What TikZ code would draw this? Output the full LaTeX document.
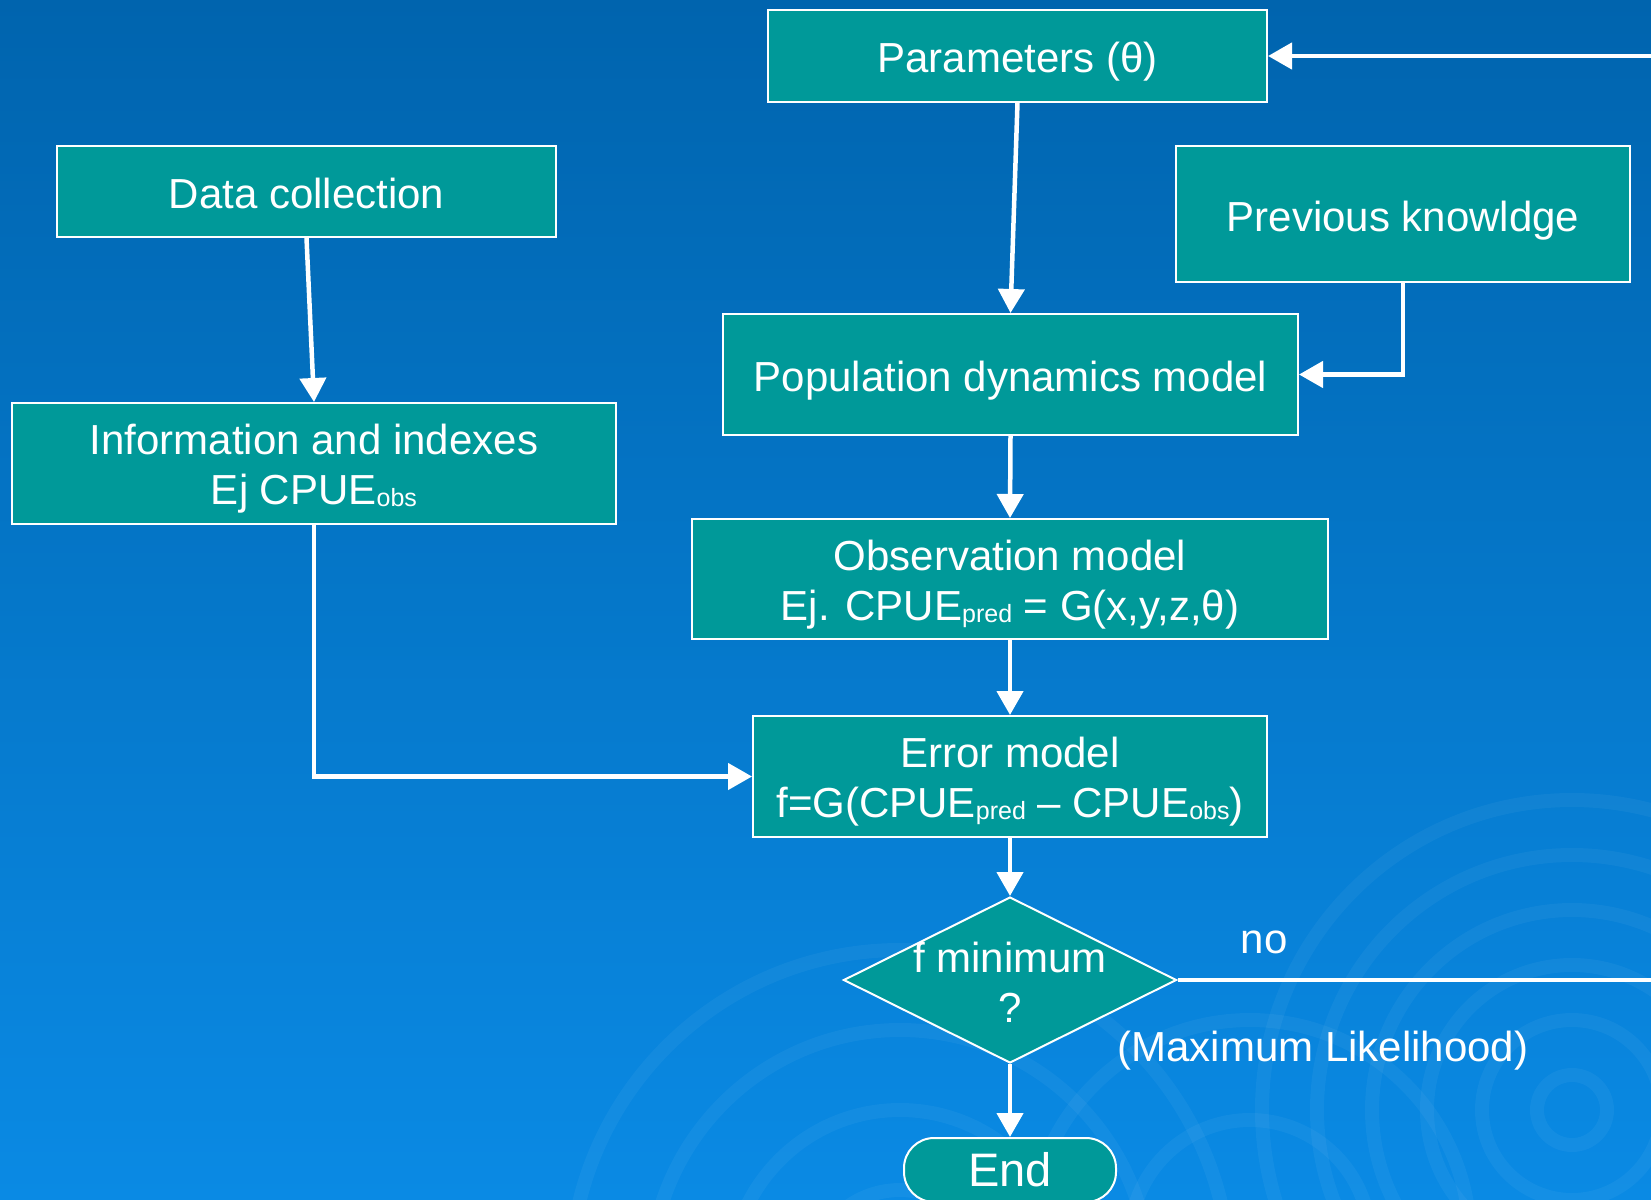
\documentclass[tikz,border=0pt]{standalone}
\usepackage{fontspec}
\setmainfont{Liberation Sans}
\usetikzlibrary{arrows.meta,shapes.geometric,positioning}
\definecolor{bgtop}{RGB}{0,100,174}
\definecolor{bgmid}{RGB}{0,110,190}
\definecolor{bgbot}{RGB}{10,138,228}
\definecolor{teal}{RGB}{0,153,153}
\newcommand{\sbs}[1]{\raisebox{-2pt}{\fontsize{25}{25}\selectfont #1}}
\newcommand{\twoline}[2]{\begin{tabular}{@{}c@{}}\rule{0pt}{47pt}#1\\#2\end{tabular}}
\tikzset{
  box/.style={draw=white, line width=2pt, fill=teal, text=white, align=center,
    inner sep=0pt, font=\fontsize{42}{50}\selectfont},
  one/.style={text height=38pt, text depth=4pt},
  conn/.style={draw=white, line width=4.5pt, -{Triangle[length=24pt,width=26pt]}},
  plain/.style={draw=white, line width=4.5pt},
  lbl/.style={text=white, inner sep=0pt, font=\fontsize{42}{50}\selectfont},
  ring/.style={draw=white, draw opacity=0.045, line width=14pt},
}
\begin{document}
\begin{tikzpicture}[x=1pt,y=-1pt]
\useasboundingbox (0,0) rectangle (1651,1199);
\begin{scope}
\clip (0,0) rectangle (1651,1199);
\shade[top color=bgtop, middle color=bgmid, bottom color=bgbot] (0,0) rectangle (1651,1199);
\foreach \r in {35,90,145,200,255,310} \draw[ring] (1572,1110) circle (\r);
\foreach \r in {90,170,250,330} \draw[ring] (900,1280) circle (\r);
\foreach \r in {120,220} \draw[ring] (1250,1240) circle (\r);
\end{scope}

\node[box, one, minimum width=499pt, minimum height=91pt] (params) at (1017.5,56) {Parameters (θ)};
\node[box, one, minimum width=499pt, minimum height=91pt] (data) at (306.5,191.5) {Data collection};
\node[box, one, minimum width=454pt, minimum height=136pt] (prev) at (1403,214) {Previous knowldge};
\node[box, one, minimum width=575pt, minimum height=121pt] (pop) at (1010.5,374.5) {Population dynamics model};
\node[box, minimum width=604pt, minimum height=121pt] (info) at (314,463.5) {\twoline{Information and indexes}{Ej CPUE\sbs{obs}}};
\node[box, minimum width=636pt, minimum height=120pt] (obs) at (1010,579) {\twoline{Observation model}{Ej. CPUE\sbs{pred} = G(x,y,z,θ)}};
\node[box, minimum width=514pt, minimum height=121pt] (err) at (1010,776.5) {\twoline{Error model}{f=G(CPUE\sbs{pred} – CPUE\sbs{obs})}};
\node[box, diamond, minimum width=333pt, minimum height=166pt] (dia) at (1010,980) {};
\node[lbl, align=center] (dtext) at (1010,982) {f minimum\\?};
\node[box, rounded corners=30pt, minimum width=212pt, minimum height=64pt, font=\fontsize{47}{50}\selectfont] (end) at (1010,1170) {End};

\node[lbl] (no) at (1264,942) {no};
\node[lbl] (ml) at (1323,1051) {(Maximum Likelihood)};

\coordinate (rtop) at (1651,56);
\coordinate (rbot) at (1651,980);

\draw[conn] (params.south) -- (pop.north);
\draw[conn] (data.south) -- (info.north);
\draw[conn] (prev.south) |- (pop.east);
\draw[conn] (pop.south) -- (obs.north);
\draw[conn] (obs.south) -- (err.north);
\draw[conn] (info.south) |- (err.west);
\draw[conn] (err.south) -- (dia.north);
\draw[conn] (dia.south) -- (end.north);
\draw[plain] (dia.east) -- (rbot);
\draw[conn] (rtop) -- (params.east);
\end{tikzpicture}
\end{document}
